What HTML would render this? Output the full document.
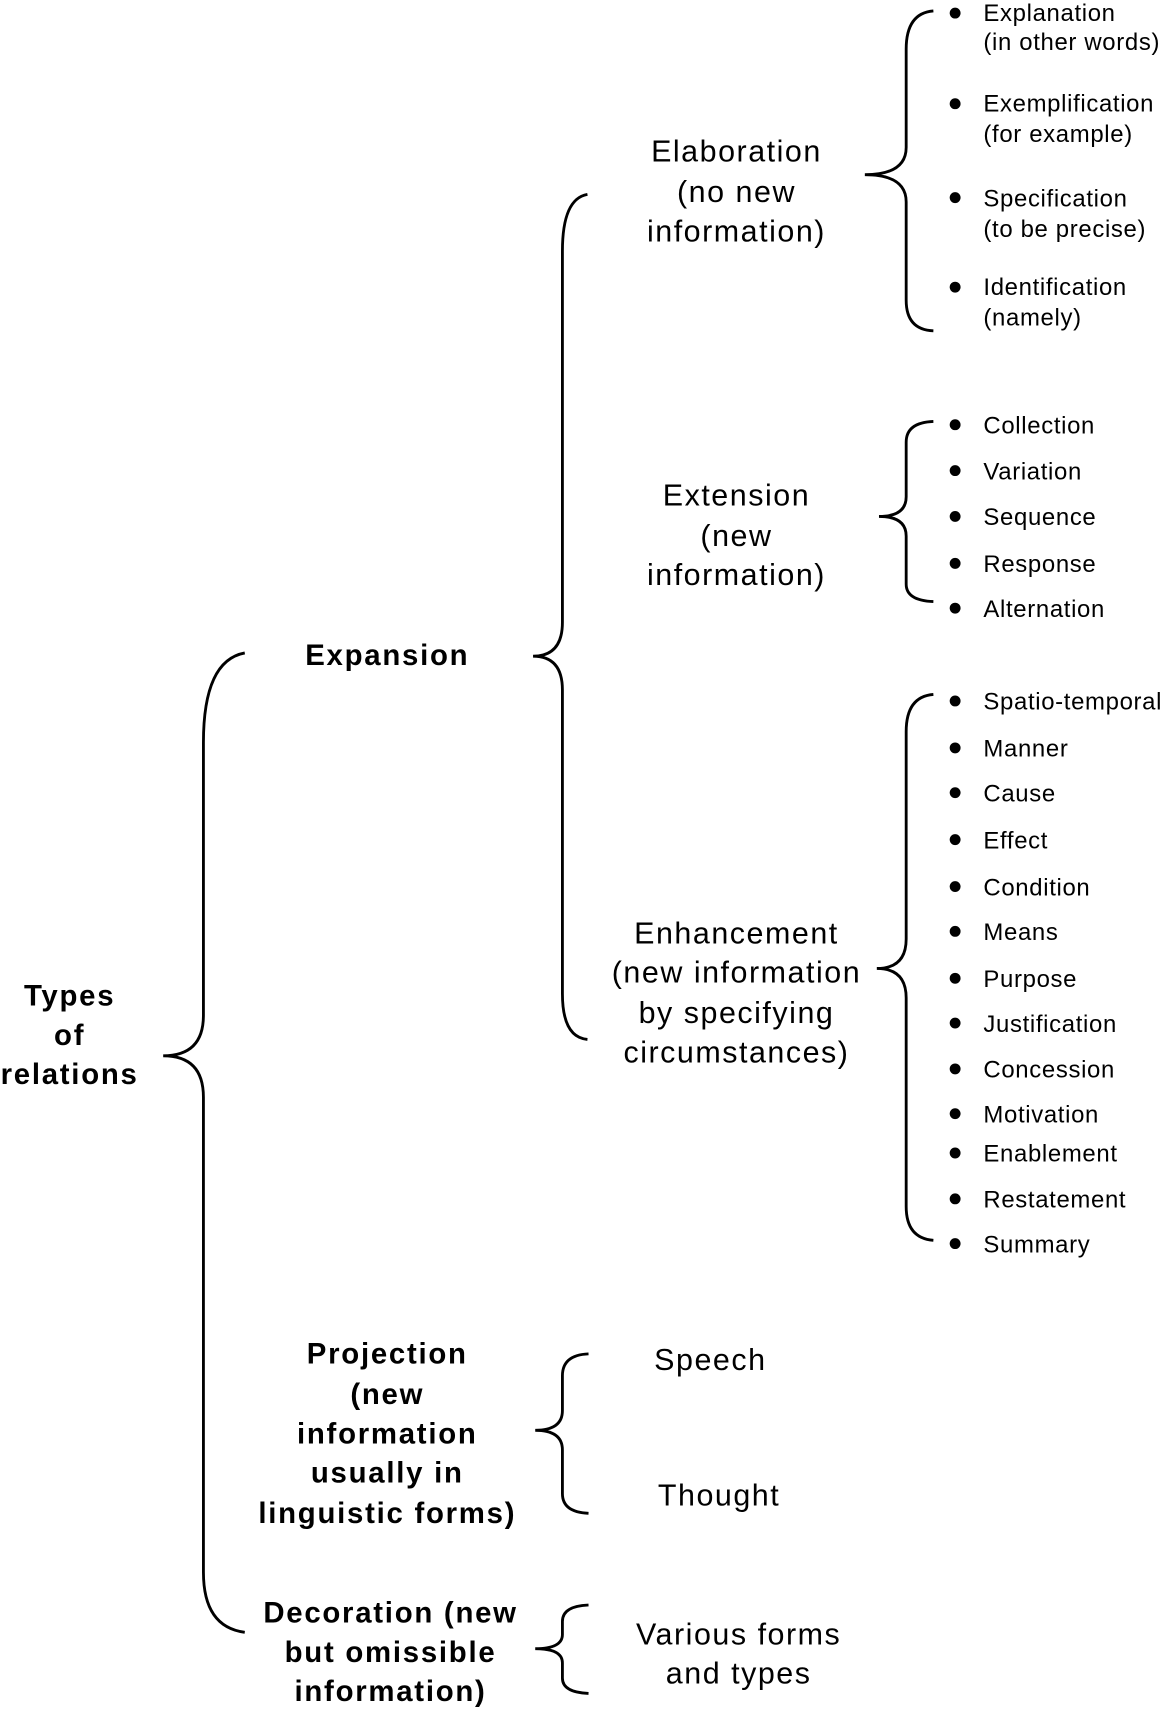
<!DOCTYPE html>
<html><head><meta charset="utf-8"><style>html,body{margin:0;padding:0;background:#fff}svg{display:block}</style></head>
<body>
<svg width="1164" height="1712" viewBox="0 0 1070 1568" preserveAspectRatio="none" xmlns="http://www.w3.org/2000/svg" font-family="Liberation Sans, Arial, sans-serif">
<g fill="none" stroke="#000" stroke-width="2.6">
<path d="M225 598 Q187 605 187 680 L187 930 Q187 967 150 967 Q187 967 187 1005 L187 1440 Q187 1490 225 1495"/>
<path d="M540 178 Q517 182 517 230 L517 570 Q517 601 490 601 Q517 601 517 632 L517 910 Q517 950 540 952"/>
<path d="M858 10 Q833 12 833 45 L833 135 Q833 160 795 160 Q833 160 833 185 L833 275 Q833 302 858 303"/>
<path d="M858 386 Q833 387 833 405 L833 455 Q833 473 808 473 Q833 473 833 491 L833 535 Q833 550 858 551"/>
<path d="M858 636 Q833 638 833 670 L833 860 Q833 887 806 887 Q833 887 833 914 L833 1105 Q833 1134 858 1136"/>
<path d="M541 1240 Q517 1241 517 1260 L517 1292 Q517 1310 492 1310 Q517 1310 517 1328 L517 1368 Q517 1385 541 1386"/>
<path d="M541 1470 Q517 1471 517 1485 L517 1497 Q517 1510 492 1510 Q517 1510 517 1523 L517 1537 Q517 1550 541 1551"/>
</g>
<g font-size="27" font-weight="bold" text-anchor="middle" letter-spacing="1.6">
<text x="64" y="921">Types</text><text x="64" y="957">of</text><text x="64" y="993">relations</text>
<text x="356" y="609">Expansion</text>
<text x="356" y="1249">Projection</text><text x="356" y="1286">(new</text><text x="356" y="1322">information</text><text x="356" y="1358">usually in</text><text x="356" y="1395">linguistic forms)</text>
<text x="359" y="1486">Decoration (new</text><text x="359" y="1522">but omissible</text><text x="359" y="1558">information)</text>
</g>
<g font-size="28" text-anchor="middle" letter-spacing="1.4">
<text x="677" y="148">Elaboration</text><text x="677" y="185">(no new</text><text x="677" y="221">information)</text>
<text x="677" y="463">Extension</text><text x="677" y="500">(new</text><text x="677" y="536">information)</text>
<text x="677" y="864">Enhancement</text><text x="677" y="900">(new information</text><text x="677" y="937">by specifying</text><text x="677" y="973">circumstances)</text>
<text x="653" y="1255">Speech</text><text x="661" y="1379">Thought</text>
<text x="679" y="1506">Various forms</text><text x="679" y="1542">and types</text>
</g>
<g font-size="22" letter-spacing="0.6">
<text x="904" y="19">Explanation</text><text x="904" y="46">(in other words)</text>
<text x="904" y="102">Exemplification</text><text x="904" y="130">(for example)</text>
<text x="904" y="189">Specification</text><text x="904" y="217">(to be precise)</text>
<text x="904" y="270">Identification</text><text x="904" y="298">(namely)</text>
<text x="904" y="397">Collection</text><text x="904" y="439">Variation</text><text x="904" y="481">Sequence</text><text x="904" y="524">Response</text><text x="904" y="565">Alternation</text>
<text x="904" y="650">Spatio-temporal</text><text x="904" y="693">Manner</text><text x="904" y="734">Cause</text><text x="904" y="777">Effect</text><text x="904" y="820">Condition</text><text x="904" y="861">Means</text><text x="904" y="904">Purpose</text><text x="904" y="945">Justification</text><text x="904" y="987">Concession</text><text x="904" y="1028">Motivation</text><text x="904" y="1064">Enablement</text><text x="904" y="1106">Restatement</text><text x="904" y="1147">Summary</text>
</g>
<g fill="#000">
<circle cx="878" cy="12" r="5"/><circle cx="878" cy="95" r="5"/><circle cx="878" cy="181" r="5"/><circle cx="878" cy="263" r="5"/>
<circle cx="878" cy="389" r="5"/><circle cx="878" cy="431" r="5"/><circle cx="878" cy="473" r="5"/><circle cx="878" cy="516" r="5"/><circle cx="878" cy="557" r="5"/>
<circle cx="878" cy="642" r="5"/><circle cx="878" cy="685" r="5"/><circle cx="878" cy="726" r="5"/><circle cx="878" cy="769" r="5"/><circle cx="878" cy="812" r="5"/><circle cx="878" cy="853" r="5"/><circle cx="878" cy="896" r="5"/><circle cx="878" cy="937" r="5"/><circle cx="878" cy="979" r="5"/><circle cx="878" cy="1020" r="5"/><circle cx="878" cy="1056" r="5"/><circle cx="878" cy="1098" r="5"/><circle cx="878" cy="1139" r="5"/>
</g>
</svg>
</body></html>
